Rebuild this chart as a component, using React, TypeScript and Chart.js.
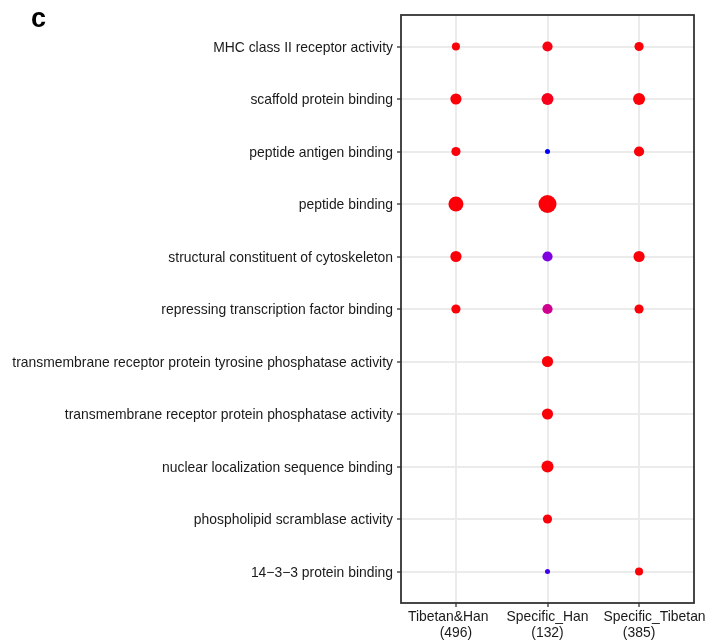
import React, { useEffect, useRef } from 'react';
import { Chart, registerables } from 'chart.js';

Chart.register(...registerables);

// ---- data ----
const terms = [
  'MHC class II receptor activity',
  'scaffold protein binding',
  'peptide antigen binding',
  'peptide binding',
  'structural constituent of cytoskeleton',
  'repressing transcription factor binding',
  'transmembrane receptor protein tyrosine phosphatase activity',
  'transmembrane receptor protein phosphatase activity',
  'nuclear localization sequence binding',
  'phospholipid scramblase activity',
  '14\u22123\u22123 protein binding',
];
// the first-line strings keep the padding seen in the reference labels
const groups = ['Tibetan&Han    ', 'Specific_Han', '        Specific_Tibetan'];
const groupTotals = ['(496)', '(132)', '(385)'];

// gene counts per term (null = not enriched)
const countTibetanHan = [4, 7, 5, 12, 7, 5, null, null, null, null, null];
const countSpecificHan = [6, 8, 2, 17, 6, 6, 7, 7, 8, 5, 2];
const countSpecificTibetan = [5, 8, 6, null, 7, 5, null, null, null, null, 4];

// adjusted p-values per term
const padjTibetanHan = [0.001, 0.001, 0.001, 0.001, 0.001, 0.001, null, null, null, null, null];
const padjSpecificHan = [0.002, 0.003, 0.04, 0.001, 0.026, 0.016, 0.001, 0.001, 0.001, 0.001, 0.036];
const padjSpecificTibetan = [0.001, 0.001, 0.001, null, 0.001, 0.001, null, null, null, null, 0.001];

const counts = [countTibetanHan, countSpecificHan, countSpecificTibetan];
const padjs = [padjTibetanHan, padjSpecificHan, padjSpecificTibetan];

// ---- styling helpers ----
const FONT = "'Liberation Sans', Arial, sans-serif";
const FONT_SIZE = 13.9;
const PADJ_MAX = 0.04;
const colorStops: [number, [number, number, number]][] = [
  [0, [255, 0, 0]],
  [0.4, [208, 0, 143]],
  [0.65, [128, 0, 224]],
  [0.9, [64, 0, 240]],
  [1, [0, 0, 255]],
];
function padjColor(p: number): string {
  const t = Math.max(0, Math.min(1, p / PADJ_MAX));
  for (let i = 1; i < colorStops.length; i++) {
    const [t1, c1] = colorStops[i];
    const [t0, c0] = colorStops[i - 1];
    if (t <= t1) {
      const f = (t - t0) / (t1 - t0);
      const c = c0.map((v, k) => Math.round(v + (c1[k] - v) * f));
      return `rgb(${c[0]},${c[1]},${c[2]})`;
    }
  }
  return 'rgb(0,0,255)';
}
function countRadius(n: number): number {
  return Math.sqrt(Math.max(1, -3.7 + 4.98 * n));
}

const framePlugin = {
  id: 'frame',
  afterDraw(chart: any) {
    const { ctx, chartArea } = chart;
    ctx.save();
    ctx.strokeStyle = '#333333';
    ctx.lineWidth = 1.8;
    ctx.strokeRect(chartArea.left, chartArea.top, chartArea.right - chartArea.left, chartArea.bottom - chartArea.top);
    ctx.fillStyle = '#000';
    ctx.font = `bold 27px ${FONT}`;
    ctx.textBaseline = 'alphabetic';
    ctx.textAlign = 'left';
    ctx.fillText('c', 31, 27);
    ctx.restore();
  },
};

export default function App() {
  const ref = useRef<HTMLCanvasElement | null>(null);
  useEffect(() => {
    if (!ref.current) return;
    const datasets = groups.map((g, gi) => {
      const data: any[] = [];
      const colors: string[] = [];
      terms.forEach((_, ti) => {
        const n = counts[gi][ti];
        const p = padjs[gi][ti];
        if (n == null || p == null) return;
        data.push({ x: gi, y: ti, r: countRadius(n) });
        colors.push(padjColor(p));
      });
      return {
        label: g.trim(),
        data,
        backgroundColor: colors,
        borderWidth: 0,
        hoverBorderWidth: 0,
      };
    });
    const chart = new Chart(ref.current, {
      type: 'bubble',
      data: { datasets },
      options: {
        animation: false,
        responsive: false,
        devicePixelRatio: 1,
        layout: { padding: { top: 15, right: 17, left: 0, bottom: 0 } },
        plugins: { legend: { display: false }, tooltip: { enabled: false } },
        scales: {
          x: {
            type: 'linear',
            position: 'bottom',
            min: -0.6,
            max: 2.6,
            afterBuildTicks: (s: any) => {
              s.ticks = groups.map((_, i) => ({ value: i }));
            },
            afterFit: (s: any) => {
              s.height = 38;
            },
            ticks: {
              autoSkip: false,
              maxRotation: 0,
              padding: 2,
              color: '#1a1a1a',
              font: { family: FONT, size: FONT_SIZE, lineHeight: 1.15 },
              callback: (_v: any, i: number) => [groups[i], groupTotals[i]],
            },
            grid: { color: '#EBEBEB', lineWidth: 2, tickColor: '#333', tickLength: 4, tickWidth: 1.3 },
            border: { display: false },
          },
          y: {
            type: 'linear',
            reverse: true,
            min: -0.6,
            max: 10.6,
            afterBuildTicks: (s: any) => {
              s.ticks = terms.map((_, i) => ({ value: i }));
            },
            afterFit: (s: any) => {
              s.width = 401;
            },
            ticks: {
              autoSkip: false,
              padding: 4,
              labelOffset: 1.5,
              color: '#1a1a1a',
              font: { family: FONT, size: FONT_SIZE },
              callback: (_v: any, i: number) => terms[i],
            },
            grid: { color: '#EBEBEB', lineWidth: 2, tickColor: '#333', tickLength: 4, tickWidth: 1.3 },
            border: { display: false },
          },
        },
      },
      plugins: [framePlugin],
    });
    return () => chart.destroy();
  }, []);
  return (
    <div style={{ position: 'fixed', left: 0, top: 0, width: 711, height: 641, background: '#fff' }}>
      <canvas ref={ref} width={711} height={641} style={{ display: 'block', width: 711, height: 641 }} />
    </div>
  );
}
